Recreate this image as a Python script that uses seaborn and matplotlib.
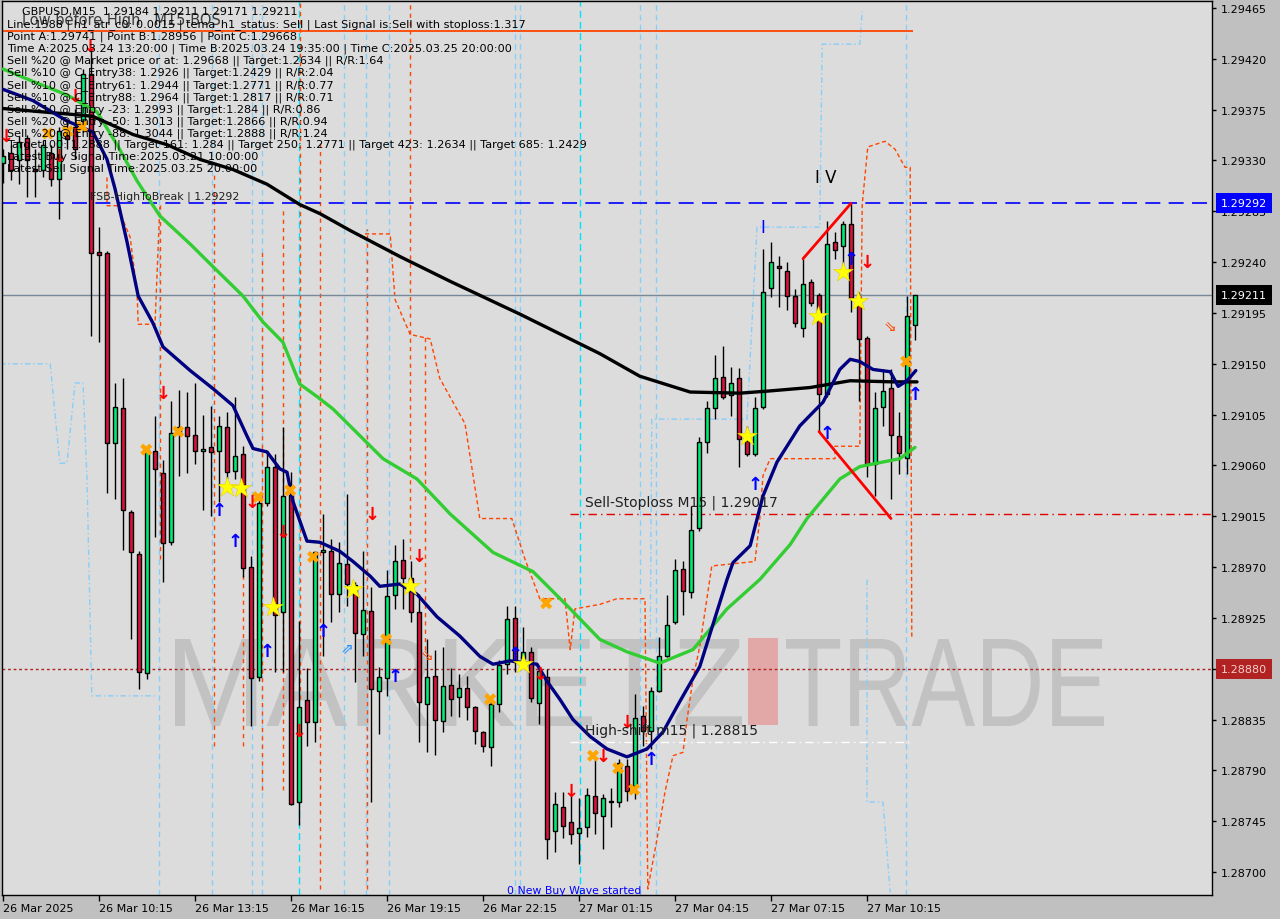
import numpy as np
import pandas as pd
import matplotlib
matplotlib.use("Agg")
import matplotlib.pyplot as plt
import seaborn as sns
from matplotlib.patches import Rectangle, PathPatch
from matplotlib.textpath import TextPath
from matplotlib.font_manager import FontProperties
from matplotlib.transforms import Affine2D, blended_transform_factory

# ---------------- data ----------------
x_label_bars = [0, 12, 24, 36, 48, 60, 72, 84, 96, 108]
x_labels = ["26 Mar 2025", "26 Mar 10:15", "26 Mar 13:15", "26 Mar 16:15", "26 Mar 19:15",
            "26 Mar 22:15", "27 Mar 01:15", "27 Mar 04:15", "27 Mar 07:15", "27 Mar 10:15"]
y_ticks = [1.28700, 1.28745, 1.28790, 1.28835, 1.28880, 1.28925, 1.28970, 1.29015, 1.29060,
           1.29105, 1.29150, 1.29195, 1.29240, 1.29285, 1.29330, 1.29375, 1.29420, 1.29465]

open_ = [1.29328, 1.29337, 1.29330, 1.29350, 1.29322, 1.29322, 1.29337, 1.29314, 1.29353, 1.29360,
         1.29365, 1.29407, 1.29249, 1.29248, 1.29080, 1.29111, 1.29019, 1.28982, 1.28876, 1.29073,
         1.29053, 1.28992, 1.29089, 1.29094, 1.29087, 1.29073, 1.29076, 1.29073, 1.29094, 1.29055,
         1.29070, 1.28970, 1.28873, 1.29027, 1.29059, 1.28930, 1.29034, 1.28762, 1.28852, 1.28833,
         1.28983, 1.28984, 1.28946, 1.28973, 1.28954, 1.28911, 1.28931, 1.28860, 1.28872, 1.28945,
         1.28976, 1.28960, 1.28930, 1.28849, 1.28874, 1.28834, 1.28866, 1.28855, 1.28863, 1.28846,
         1.28824, 1.28811, 1.28849, 1.28884, 1.28925, 1.28889, 1.28895, 1.28850, 1.28873, 1.28736,
         1.28758, 1.28744, 1.28735, 1.28740, 1.28767, 1.28750, 1.28763, 1.28762, 1.28794, 1.28776,
         1.28838, 1.28825, 1.28860, 1.28891, 1.28921, 1.28968, 1.28948, 1.29005, 1.29081, 1.29111,
         1.29138, 1.29122, 1.29137, 1.29082, 1.29070, 1.29112, 1.29217, 1.29236, 1.29232, 1.29210,
         1.29182, 1.29222, 1.29211, 1.29123, 1.29258, 1.29254, 1.29274, 1.29208, 1.29173, 1.29061,
         1.29112, 1.29129, 1.29086, 1.29067, 1.29184]
high = [1.29340, 1.29344, 1.29352, 1.29353, 1.29340, 1.29348, 1.29344, 1.29360, 1.29367, 1.29376,
        1.29411, 1.29427, 1.29271, 1.29250, 1.29133, 1.29137, 1.29021, 1.28984, 1.29077, 1.29104,
        1.29065, 1.29117, 1.29127, 1.29125, 1.29133, 1.29105, 1.29113, 1.29104, 1.29107, 1.29121,
        1.29077, 1.28980, 1.29032, 1.29073, 1.29070, 1.29094, 1.29054, 1.28922, 1.28881, 1.28984,
        1.29017, 1.28995, 1.28992, 1.29035, 1.28957, 1.28984, 1.28952, 1.28882, 1.28967, 1.28990,
        1.28995, 1.28975, 1.28946, 1.28906, 1.28897, 1.28899, 1.28881, 1.28875, 1.28874, 1.28847,
        1.28825, 1.28853, 1.28888, 1.28936, 1.28936, 1.28917, 1.28899, 1.28882, 1.28880, 1.28771,
        1.28771, 1.28767, 1.28766, 1.28774, 1.28802, 1.28769, 1.28774, 1.28800, 1.28800, 1.28858,
        1.28847, 1.28864, 1.28908, 1.28945, 1.28977, 1.28975, 1.29024, 1.29085, 1.29117, 1.29158,
        1.29166, 1.29147, 1.29146, 1.29095, 1.29121, 1.29252, 1.29258, 1.29245, 1.29240, 1.29216,
        1.29243, 1.29225, 1.29213, 1.29276, 1.29267, 1.29276, 1.29292, 1.29214, 1.29175, 1.29125,
        1.29145, 1.29145, 1.29107, 1.29210, 1.29211]
low = [1.29310, 1.29313, 1.29309, 1.29298, 1.29298, 1.29315, 1.29307, 1.29278, 1.29340, 1.29331,
       1.29355, 1.29175, 1.29169, 1.29036, 1.29030, 1.28985, 1.28906, 1.28862, 1.28871, 1.28997,
       1.28957, 1.28990, 1.29051, 1.29053, 1.29061, 1.29021, 1.29015, 1.29028, 1.29048, 1.29048,
       1.28961, 1.28829, 1.28869, 1.29024, 1.28877, 1.28877, 1.28759, 1.28742, 1.28812, 1.28815,
       1.28891, 1.28921, 1.28930, 1.28936, 1.28868, 1.28891, 1.28762, 1.28822, 1.28856, 1.28933,
       1.28933, 1.28921, 1.28815, 1.28806, 1.28804, 1.28824, 1.28838, 1.28837, 1.28835, 1.28813,
       1.28806, 1.28794, 1.28842, 1.28875, 1.28877, 1.28882, 1.28851, 1.28831, 1.28712, 1.28718,
       1.28730, 1.28725, 1.28707, 1.28731, 1.28734, 1.28720, 1.28740, 1.28758, 1.28763, 1.28765,
       1.28812, 1.28809, 1.28859, 1.28890, 1.28920, 1.28928, 1.28943, 1.29002, 1.29071, 1.29101,
       1.29119, 1.29104, 1.29059, 1.29068, 1.29068, 1.29110, 1.29209, 1.29200, 1.29198, 1.29183,
       1.29174, 1.29201, 1.29090, 1.29121, 1.29243, 1.29231, 1.29196, 1.29117, 1.29050, 1.29033,
       1.29095, 1.29030, 1.29052, 1.29052, 1.29171]
close = [1.29334, 1.29322, 1.29346, 1.29330, 1.29321, 1.29344, 1.29314, 1.29356, 1.29349, 1.29340,
         1.29407, 1.29248, 1.29246, 1.29080, 1.29112, 1.29021, 1.28983, 1.28877, 1.29074, 1.29057,
         1.28991, 1.29089, 1.29094, 1.29086, 1.29073, 1.29075, 1.29072, 1.29095, 1.29054, 1.29068,
         1.28969, 1.28872, 1.29027, 1.29059, 1.28928, 1.29033, 1.28760, 1.28846, 1.28833, 1.28983,
         1.28985, 1.28946, 1.28974, 1.28955, 1.28912, 1.28932, 1.28862, 1.28873, 1.28944, 1.28975,
         1.28960, 1.28930, 1.28851, 1.28873, 1.28835, 1.28865, 1.28853, 1.28863, 1.28846, 1.28825,
         1.28812, 1.28849, 1.28883, 1.28924, 1.28886, 1.28895, 1.28854, 1.28878, 1.28729, 1.28760,
         1.28741, 1.28734, 1.28739, 1.28768, 1.28752, 1.28766, 1.28762, 1.28797, 1.28772, 1.28836,
         1.28825, 1.28860, 1.28891, 1.28919, 1.28967, 1.28949, 1.29003, 1.29081, 1.29111, 1.29137,
         1.29121, 1.29133, 1.29083, 1.29070, 1.29111, 1.29214, 1.29240, 1.29235, 1.29210, 1.29186,
         1.29221, 1.29204, 1.29123, 1.29256, 1.29251, 1.29274, 1.29208, 1.29172, 1.29061, 1.29111,
         1.29126, 1.29087, 1.29071, 1.29192, 1.29211]

# moving averages (read at sample bars)
black_bars = [0, 10, 11.25, 16.25, 20.5, 24.6, 28.75, 33, 37.1, 39.6, 43.4, 49.6, 55.9, 64.6,
              74.6, 79.6, 85.9, 92.1, 95.9, 100.9, 105.9, 111.25, 114.25]
black_vals = [1.29376, 1.29370, 1.29369, 1.29353, 1.29344, 1.29331, 1.29322, 1.29309, 1.29291,
              1.29283, 1.29268, 1.29245, 1.29223, 1.29194, 1.29159, 1.29139, 1.29125, 1.29124,
              1.29126, 1.29129, 1.29135, 1.29134, 1.29134]
navy_bars = [0, 3.75, 8, 11.25, 13, 14, 15.5, 16.9, 18.75, 20, 23.4, 26.25, 28.75, 30.5, 31.25,
             33, 34.6, 35.5, 36.25, 38, 39.6, 42.1, 43.75, 45.9, 47.1, 49.6, 51.75, 54.25, 57.1,
             59.6, 61.25, 63.4, 66.75, 68, 69.6, 71.25, 73.4, 75.5, 78, 80.5, 82.5, 84.6, 87.1,
             90.5, 91.25, 93.4, 95, 96.75, 99.6, 101.25, 102.5, 104.6, 105.9, 107.1, 108.75,
             110.9, 111.9, 113, 114.1]
navy_vals = [1.29393, 1.29383, 1.29365, 1.29355, 1.29331, 1.29305, 1.29258, 1.29210, 1.29186,
             1.29165, 1.29144, 1.29128, 1.29113, 1.29086, 1.29075, 1.29072, 1.29057, 1.29054,
             1.29028, 1.28993, 1.28992, 1.28984, 1.28975, 1.28962, 1.28953, 1.28955, 1.28946,
             1.28926, 1.28909, 1.28891, 1.28884, 1.28887, 1.28884, 1.28869, 1.28853, 1.28835,
             1.28820, 1.28809, 1.28802, 1.28809, 1.28824, 1.28851, 1.28882, 1.28959, 1.28974,
             1.28989, 1.29033, 1.29063, 1.29095, 1.29107, 1.29116, 1.29145, 1.29154, 1.29152,
             1.29145, 1.29143, 1.29130, 1.29135, 1.29144]
green_bars = [0, 3.75, 8, 11.75, 14.25, 16.75, 19.6, 23.4, 26.25, 30, 32.5, 35, 37.1, 39.25,
              41.25, 47.5, 51.75, 55.9, 61.25, 66.25, 70.5, 74.6, 78, 82.1, 86.25, 90.5, 94.6,
              98.4, 100.5, 104.6, 107.1, 112.1, 114]
green_vals = [1.29411, 1.29400, 1.29388, 1.29373, 1.29344, 1.29312, 1.29281, 1.29256, 1.29236,
              1.29210, 1.29187, 1.29169, 1.29132, 1.29121, 1.29110, 1.29066, 1.29048, 1.29017,
              1.28983, 1.28966, 1.28936, 1.28906, 1.28895, 1.28885, 1.28897, 1.28933, 1.28959,
              1.28990, 1.29013, 1.29048, 1.29059, 1.29066, 1.29076]

# indicator step lines
orange_bars = [45.25, 48.4, 49.0, 50.9, 53.4, 54.6, 57.75, 59.6, 63.6, 65.25, 67.1, 70.25, 70.9,
               71.5, 74.6, 76.75, 80.25, 80.6, 81.9, 82.75, 83.75, 85.0, 85.5, 86.25, 87.1, 88.6,
               94.0, 94.6, 95.0, 95.9, 104.0, 104.0, 107.1, 107.4, 108.1, 110.25, 111.5, 112.75,
               113.4, 113.6]
orange_vals = [1.29265, 1.29265, 1.29207, 1.29176, 1.29172, 1.29137, 1.29097, 1.29013, 1.29013,
               1.28977, 1.28942, 1.28942, 1.28897, 1.28933, 1.28937, 1.28942, 1.28942, 1.28685,
               1.28735, 1.28771, 1.28803, 1.28806, 1.28835, 1.28871, 1.28900, 1.28971, 1.28975,
               1.29013, 1.29051, 1.29066, 1.29066, 1.29077, 1.29077, 1.29291, 1.29342, 1.29347,
               1.29340, 1.29324, 1.29324, 1.28906]
orange2_bars = [13, 13, 14.25, 15.9, 16.75, 16.9, 19, 19.6]
orange2_vals = [1.29315, 1.29290, 1.29290, 1.29262, 1.29214, 1.29185, 1.29185, 1.29289]
orange_v_bars = [19.6, 26.4, 30.0, 32.4, 35.0, 37.1, 39.6, 45.5, 50.9, 52.75]
orange_v_top = [1.29291, 1.29318, 1.28977, 1.29252, 1.29287, 1.29471, 1.29349, 1.29269, 1.29471, 1.29176]
orange_v_bot = [1.28977, 1.28812, 1.28812, 1.28773, 1.28773, 1.28853, 1.28685, 1.28685, 1.28977, 1.28897]
lb1_bars = [-0.375, 5.9, 7.1, 8, 9, 10, 10.5, 11.1, 19]
lb1_vals = [1.29150, 1.29150, 1.29062, 1.29062, 1.29133, 1.29133, 1.29048, 1.28856, 1.28856]
lb2_bars = [80.9, 81.1, 93, 94.25, 102.1, 102.4, 107.1, 107.4]
lb2_vals = [1.28897, 1.29101, 1.29101, 1.29271, 1.29271, 1.29433, 1.29433, 1.29462]
lb3_bars = [108, 108, 110, 110.9]
lb3_vals = [1.28959, 1.28762, 1.28762, 1.28682]
lightblue_v_bars = [19.5, 26.1, 31.1, 32.4, 42.6, 45.4, 48.2, 64.0, 64.6, 79.6, 81.6, 112.9]
cyan_v_bars = [37.0, 72.1]

# levels
level_top = 1.29445
level_fsb = 1.29292
level_now = 1.29211
level_stop = 1.29017
level_shift = 1.28815
level_red = 1.28880

trend1_bars = [100, 106]
trend1_vals = [1.29243, 1.29292]
trend2_bars = [102, 111]
trend2_vals = [1.29090, 1.29013]

star_bars = [28, 29.75, 33.75, 43.75, 50.9, 65, 93, 101.9, 105, 106.9]
star_vals = [1.29041, 1.29040, 1.28935, 1.28951, 1.28953, 1.28884, 1.29086, 1.29192, 1.29231, 1.29206]
cross_bars = [5.6, 8.1, 9.9, 17.9, 21.9, 31.9, 35.9, 38.75, 47.9, 60.9, 67.9, 73.75, 76.9, 78.9, 112.9]
cross_vals = [1.29354, 1.29356, 1.29360, 1.29074, 1.29090, 1.29032, 1.29038, 1.28979, 1.28906,
              1.28853, 1.28938, 1.28803, 1.28792, 1.28773, 1.29152]
down_bars = [0.4, 7, 9, 10.9, 20, 31.1, 35, 37, 46.1, 52, 67.1, 71, 75, 78, 108]
down_vals = [1.29352, 1.29334, 1.29387, 1.29431, 1.29124, 1.29028, 1.29001, 1.28825, 1.29017,
             1.28980, 1.28875, 1.28772, 1.28803, 1.28833, 1.29240]
up_bars = [27, 29, 33, 40, 49, 64, 81, 94, 103, 106, 114]
up_vals = [1.29021, 1.28993, 1.28896, 1.28913, 1.28874, 1.28893, 1.28800, 1.29044, 1.29089, 1.29243, 1.29123]
hollow_up_bars = [43]
hollow_up_vals = [1.28898]
hollow_down_bars = [53, 110.9]
hollow_down_vals = [1.28893, 1.29184]

title_text = "GBPUSD,M15  1.29184 1.29211 1.29171 1.29211"
info_lines = [
    "Line:1588 | h1_atr_c0: 0.0015 | tema_h1_status: Sell | Last Signal is:Sell with stoploss:1.317",
    "Point A:1.29741 | Point B:1.28956 | Point C:1.29668",
    "Time A:2025.03.24 13:20:00 | Time B:2025.03.24 19:35:00 | Time C:2025.03.25 20:00:00",
    "Sell %20 @ Market price or at: 1.29668 || Target:1.2634 || R/R:1.64",
    "Sell %10 @ C_Entry38: 1.2926 || Target:1.2429 || R/R:2.04",
    "Sell %10 @ C_Entry61: 1.2944 || Target:1.2771 || R/R:0.77",
    "Sell %10 @ C_Entry88: 1.2964 || Target:1.2817 || R/R:0.71",
    "Sell %10 @ Entry -23: 1.2993 || Target:1.284 || R/R:0.86",
    "Sell %20 @ Entry -50: 1.3013 || Target:1.2866 || R/R:0.94",
    "Sell %20 @ Entry -88: 1.3044 || Target:1.2888 || R/R:1.24",
    "Target100: 1.2888 || Target 161: 1.284 || Target 250: 1.2771 || Target 423: 1.2634 || Target 685: 1.2429",
    "Latest Buy Signal Time:2025.03.21 10:00:00",
    "Latest Sell Signal Time:2025.03.25 20:00:00",
]

# ---------------- figure ----------------
sns.set_theme(style="white")
plt.rcParams['font.family'] = ['DejaVu Sans']

W, H = 1280, 920
fig = plt.figure(figsize=(W / 100, H / 100), dpi=100, facecolor='#c0c0c0')
ax = fig.add_axes([2 / W, 24 / H, 1210 / W, 894 / H])
ax.set_facecolor('#dcdcdc')
XMIN, XMAX = -0.125, 151.125
YMIN, YMAX = 1.286797, 1.294712

# watermark (pixel positions are style, not data)
fp = FontProperties(family='Liberation Sans')
def watermark(text, x0, x1, ytop, ybot, color):
    tp = TextPath((0, 0), text, size=100, prop=fp)
    ext = tp.get_extents()
    sx = (x1 - x0) / ext.width
    sy = (ybot - ytop) / ext.height
    tr = Affine2D().translate(-ext.x0, -ext.y0).scale(sx, sy).translate(x0, H - ybot)
    p = PathPatch(tp, transform=tr, fc=color, ec='none', zorder=0.6)
    ax.add_artist(p)
watermark("MARKETZ", 175, 742, 640, 727, '#c2c2c2')
watermark("TRADE", 786, 1104, 640, 727, '#c2c2c2')
ax.add_artist(Rectangle((748, H - 726), 30, 87, transform=Affine2D(), fc='#e2a8a8', ec='none', zorder=0.6))

# vertical indicator lines
for b in lightblue_v_bars:
    ax.axvline(b, color='#87cefa', lw=1, ls=(0, (4, 3)), zorder=1)
for b in cyan_v_bars:
    ax.axvline(b, color='#00e0ff', lw=1, ls=(0, (5, 3)), zorder=1)
ax.vlines(orange_v_bars, orange_v_bot, orange_v_top, color='#ff4500', lw=1, ls=(0, (3, 3)), zorder=1)

sns.lineplot(x=orange_bars, y=orange_vals, ax=ax, color='#ff4500', lw=1, ls=(0, (3, 2)),
             sort=False, estimator=None, zorder=1)
sns.lineplot(x=orange2_bars, y=orange2_vals, ax=ax, color='#ff4500', lw=1, ls=(0, (3, 2)),
             sort=False, estimator=None, zorder=1)
for bx, by in [(lb1_bars, lb1_vals), (lb2_bars, lb2_vals), (lb3_bars, lb3_vals)]:
    sns.lineplot(x=bx, y=by, ax=ax, color='#87cefa', lw=1, ls=(0, (4, 2, 1, 2)),
                 sort=False, estimator=None, zorder=1)

# horizontal levels
ax.hlines(level_top, XMIN, 113.75, color='#ff4500', lw=1.3, zorder=2)
ax.axhline(level_fsb, color='#0000ff', lw=1.2, ls=(0, (9, 5)), zorder=2)
ax.axhline(level_now, color='#778899', lw=1, zorder=2)
ax.axhline(level_red, color='#b22222', lw=1, ls=(0, (2, 2)), zorder=2)
ax.hlines(level_stop, 70.9, XMAX, color='#e00000', lw=1, ls=(0, (6, 3, 1, 3)), zorder=2)
ax.hlines(level_shift, 70.9, 113.75, color='white', lw=1, ls=(0, (6, 3, 1, 3)), zorder=2)

# candles
o = np.array(open_); c = np.array(close); hh = np.array(high); ll = np.array(low)
idx = np.arange(len(o))
up = c >= o
ax.vlines(idx, ll, hh, color='black', lw=1, zorder=3)
bottom = np.minimum(o, c)
height = np.maximum(np.abs(c - o), 0.000012)
ax.bar(idx[up], height[up], bottom=bottom[up], width=0.62, color='#00ee76',
       edgecolor='black', linewidth=1, zorder=4)
ax.bar(idx[~up], height[~up], bottom=bottom[~up], width=0.62, color='#dc143c',
       edgecolor='black', linewidth=1, zorder=4)

# moving averages
sns.lineplot(x=green_bars, y=green_vals, ax=ax, color='#32cd32', lw=2.4, sort=False, estimator=None, zorder=5)
sns.lineplot(x=black_bars, y=black_vals, ax=ax, color='black', lw=2.4, sort=False, estimator=None, zorder=5)
sns.lineplot(x=navy_bars, y=navy_vals, ax=ax, color='#000080', lw=2.4, sort=False, estimator=None, zorder=5)

# trend lines
sns.lineplot(x=trend1_bars, y=trend1_vals, ax=ax, color='#ff0000', lw=2, sort=False, estimator=None, zorder=6)
sns.lineplot(x=trend2_bars, y=trend2_vals, ax=ax, color='#ff0000', lw=2, sort=False, estimator=None, zorder=6)

# signal markers
ax.scatter(star_bars, star_vals, marker='*', s=230, color='#ffff00', edgecolors='#e0c000', linewidths=0.3, zorder=7)
ax.scatter(cross_bars, cross_vals, marker='X', s=75, color='#ffa500', edgecolors='none', zorder=7)
for b, v in zip(down_bars, down_vals):
    ax.text(b, v, '↓', color='#ff0000', fontsize=13, fontweight='bold', ha='center', va='center', zorder=8)
for b, v in zip(up_bars, up_vals):
    ax.text(b, v, '↑', color='#0000ff', fontsize=13, fontweight='bold', ha='center', va='center', zorder=8)
for b, v in zip(hollow_up_bars, hollow_up_vals):
    ax.text(b, v, '⇗', color='#1e90ff', fontsize=11, ha='center', va='center', zorder=8)
for b, v in zip(hollow_down_bars, hollow_down_vals):
    ax.text(b, v, '⇘', color='#ff4500', fontsize=11, ha='center', va='center', zorder=8)

# labels on chart
ax.text(10.9, level_fsb + 0.00002, "FSB-HighToBreak | 1.29292", fontsize=7.9, color='#202020',
        ha='left', va='bottom', zorder=9)
ax.text(72.75, 1.29028, "Sell-Stoploss M15 | 1.29017", fontsize=10, color='#202020',
        ha='left', va='center', zorder=9)
ax.text(72.75, 1.28826, "High-shift m15 | 1.28815", fontsize=10, color='#202020',
        ha='left', va='center', zorder=9)
ax.text(63, 1.28684, "0 New Buy Wave started", fontsize=7.8, color='#0000ff',
        ha='left', va='center', zorder=9)
ax.text(95, 1.29271, "I", fontsize=12, color='#0000ff', ha='center', va='center', zorder=9)
ax.text(102.9, 1.29315, "I V", fontsize=12, color='black', ha='center', va='center', zorder=9)

# axes setup
ax.set_xlim(XMIN, XMAX)
ax.set_ylim(YMIN, YMAX)
ax.set_xlabel(''); ax.set_ylabel('')
ax.yaxis.tick_right()
ax.set_yticks(y_ticks)
ax.set_yticklabels([f"{v:.5f}" for v in y_ticks])
ax.set_xticks(x_label_bars)
ax.set_xticklabels(x_labels)
for lab in ax.get_xticklabels():
    lab.set_horizontalalignment('left')
ax.tick_params(axis='y', which='both', right=True, left=False, direction='out', length=3,
               width=1, colors='black', labelsize=8, pad=3.5)
ax.tick_params(axis='x', which='both', bottom=True, direction='out', length=4,
               width=1, colors='black', labelsize=8, pad=2)
for s in ax.spines.values():
    s.set_color('black'); s.set_linewidth(1); s.set_visible(True)

# price boxes on the right axis (drawn over the tick labels)
bt = blended_transform_factory(ax.transAxes, ax.transData)
for val, fc, tc in [(level_fsb, '#0000ff', 'white'), (level_now, 'black', 'white'),
                    (level_red, '#b22222', '#f4d0d0')]:
    ax.text(1.0074, val, f"{val:.5f}", transform=bt, fontsize=8, color=tc, ha='left', va='center',
            bbox=dict(boxstyle='square,pad=0.45', fc=fc, ec='none'), clip_on=False, zorder=20)

# header texts
fig.text(22 / W, 1 - 20 / H, "Low before High   M15-BOS", fontsize=10.5, color='#3a3a3a',
         ha='left', va='center')
fig.text(22 / W, 1 - 12 / H, title_text, fontsize=8, color='black', ha='left', va='center')
ys = [25, 37, 49, 61, 73, 86, 98, 110, 122, 134, 145, 157, 169]
for yy, line in zip(ys, info_lines):
    fig.text(7 / W, 1 - yy / H, line, fontsize=8.1, color='black', ha='left', va='center')

fig.savefig('out.png', dpi=100, facecolor=fig.get_facecolor())
